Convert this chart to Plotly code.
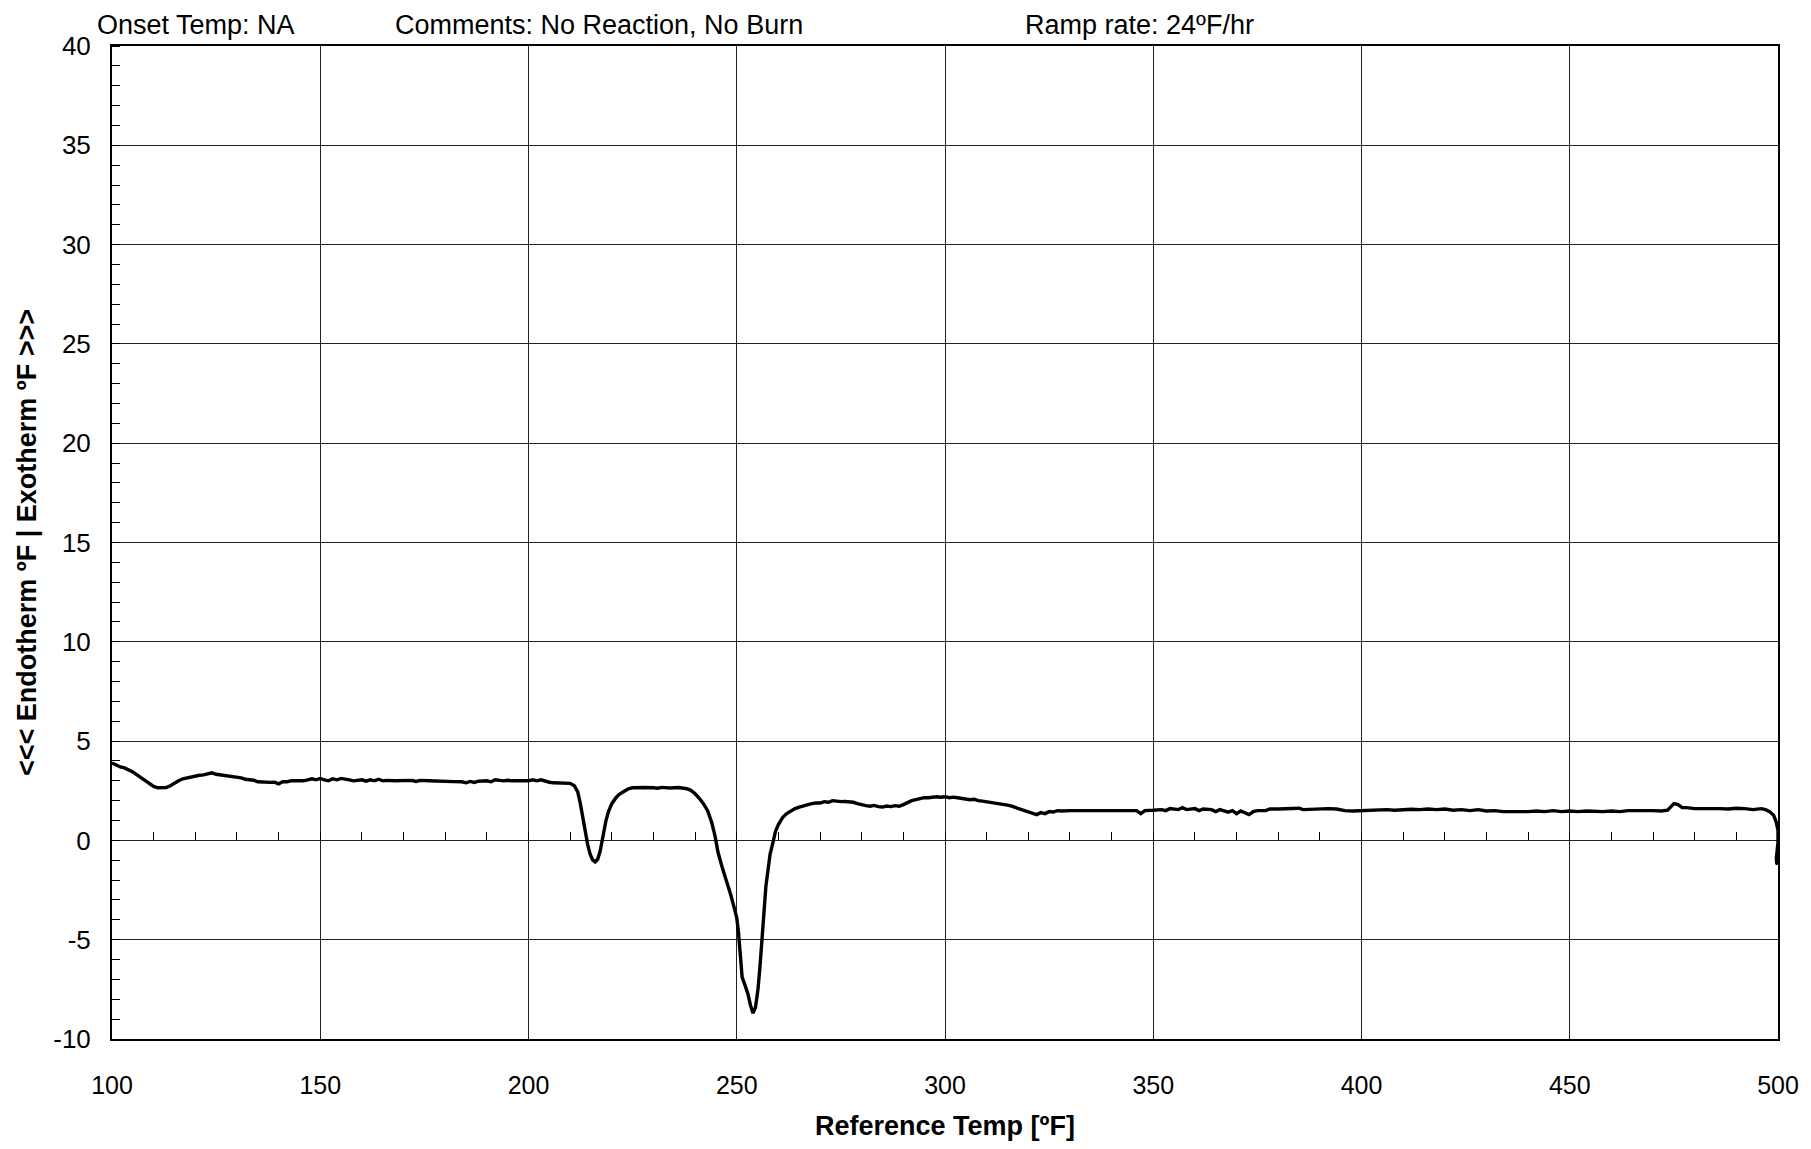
import plotly.graph_objects as go

# Reference temperature (ºF) and differential (ºF)
temp_f = [
    100, 101, 102, 103, 104, 105, 106, 107, 108, 109, 110, 111, 112, 113, 114, 115, 116, 117, 118, 119,
    120, 121, 122, 123, 124, 125, 126, 127, 128, 129, 130, 131, 132, 133, 134, 135, 136, 137, 138, 139,
    140, 141, 142, 143, 144, 145, 146, 147, 148, 149, 150, 151, 152, 153, 154, 155, 156, 157, 158, 159,
    160, 161, 162, 163, 164, 165, 166, 168, 170, 172, 173, 174, 176, 178, 180, 182, 184, 185, 186, 187,
    188, 190, 191, 192, 194, 195, 196, 198, 200, 201, 202, 203, 204, 205, 206, 208, 210,
    211, 211.8, 212.4, 213, 213.6, 214.2, 214.8, 215.4, 216, 216.6, 217.2, 218, 218.6, 219.2, 220, 221,
    221.8, 222.8, 224, 225, 226, 228, 230, 231, 232, 234, 236, 237, 238, 239, 240, 241, 242, 243, 244,
    244.8, 245.5, 246.5, 247.5, 248.5, 249.4, 250, 250.4, 250.8, 251.3, 252, 252.7, 253.3, 253.9, 254.5,
    255.1, 255.6, 256, 256.5, 257, 257.5, 258, 258.7, 259.3, 260, 261, 262, 263, 264, 265, 266, 267, 268,
    269, 270, 271, 272, 273, 274, 275, 276, 277, 278, 279, 280, 281, 282, 283, 284, 285, 286, 287, 288,
    289, 290, 291, 292, 293, 294, 295, 296, 297, 298, 299, 300, 301, 302, 303, 304, 305, 306, 307, 308,
    309, 310, 311, 312, 313, 314, 315, 316, 317, 318, 319, 320, 321, 322, 323, 324, 325, 326, 327, 328,
    330, 332, 334, 336, 338, 340, 342, 344, 346, 347, 348, 350, 352, 353, 354, 356, 357, 358, 360, 361,
    362, 364, 365, 366, 368, 369, 370, 371, 372, 373, 374, 375, 377, 378, 380, 382, 384, 385, 386, 388,
    390, 392, 394, 396, 398, 400, 402, 404, 406, 408, 410, 412, 414, 416, 418, 420, 422, 424, 426, 428,
    430, 432, 434, 436, 438, 440, 442, 444, 446, 448, 450, 452, 454, 456, 458, 460, 462, 464, 466, 468,
    470, 472, 473.5, 474.3, 475, 476, 477, 478, 480, 482, 484, 486, 488, 490, 492, 494, 496, 497, 498,
    499, 499.6, 500, 500, 499.8, 499.6, 499.7, 499.9, 500, 500,
]
delta_f = [
    3.9, 3.8, 3.7, 3.65, 3.55, 3.45, 3.3, 3.15, 3.0, 2.85, 2.72, 2.65, 2.64, 2.66, 2.75, 2.9, 3.0, 3.1, 3.15, 3.2,
    3.25, 3.28, 3.3, 3.35, 3.4, 3.33, 3.3, 3.25, 3.25, 3.2, 3.2, 3.15, 3.08, 3.05, 3.03, 2.95, 2.93, 2.92, 2.92, 2.93,
    2.85, 2.95, 2.95, 3.0, 3.0, 3.02, 3.0, 3.05, 3.1, 3.05, 3.12, 3.05, 3.0, 3.1, 3.05, 3.12, 3.1, 3.05, 3.0, 3.02,
    3.05, 2.98, 3.05, 3.0, 3.08, 3.0, 3.02, 3.0, 3.0, 3.02, 2.97, 3.02, 3.0, 3.0, 3.0, 2.96, 2.95, 2.9, 2.97, 2.92,
    2.98, 3.0, 2.95, 3.05, 3.0, 3.03, 3.0, 2.98, 3.0, 3.05, 3.0, 3.05, 2.98, 2.93, 2.9, 2.88, 2.87,
    2.75, 2.45, 1.9, 1.2, 0.45, -0.2, -0.7, -0.98, -1.08, -0.95, -0.55, 0.35, 1.0, 1.45, 1.85, 2.15,
    2.32, 2.45, 2.6, 2.65, 2.66, 2.66, 2.65, 2.63, 2.67, 2.64, 2.66, 2.63, 2.6, 2.52, 2.35, 2.12, 1.85, 1.5, 0.9,
    0.2, -0.6, -1.35, -2.0, -2.7, -3.4, -3.9, -4.6, -5.7, -6.9, -7.3, -7.75, -8.3, -8.7, -8.4,
    -7.5, -6.3, -5.0, -3.5, -2.3, -1.5, -0.7, -0.1, 0.45, 0.8, 1.15, 1.35, 1.5, 1.6, 1.68, 1.75, 1.8, 1.85,
    1.88, 1.88, 1.95, 1.92, 2.0, 1.96, 1.95, 1.96, 1.95, 1.92, 1.85, 1.78, 1.75, 1.72, 1.76, 1.7, 1.68, 1.73, 1.7, 1.75,
    1.72, 1.8, 1.92, 2.0, 2.05, 2.1, 2.15, 2.15, 2.18, 2.2, 2.17, 2.2, 2.15, 2.18, 2.15, 2.12, 2.1, 2.05, 2.07, 2.0,
    1.98, 1.95, 1.92, 1.88, 1.85, 1.82, 1.78, 1.72, 1.65, 1.58, 1.5, 1.45, 1.38, 1.3, 1.4, 1.35, 1.45, 1.43, 1.5, 1.48,
    1.5, 1.5, 1.48, 1.52, 1.5, 1.5, 1.52, 1.5, 1.5, 1.35, 1.5, 1.52, 1.55, 1.5, 1.6, 1.55, 1.65, 1.55, 1.6, 1.5,
    1.58, 1.55, 1.45, 1.55, 1.42, 1.5, 1.35, 1.48, 1.4, 1.3, 1.45, 1.5, 1.5, 1.58, 1.58, 1.58, 1.6, 1.62, 1.55, 1.58,
    1.58, 1.6, 1.58, 1.5, 1.48, 1.5, 1.52, 1.5, 1.55, 1.52, 1.55, 1.57, 1.55, 1.58, 1.55, 1.58, 1.52, 1.55, 1.5, 1.55,
    1.48, 1.5, 1.45, 1.45, 1.42, 1.45, 1.48, 1.45, 1.5, 1.45, 1.48, 1.45, 1.48, 1.45, 1.45, 1.48, 1.45, 1.5, 1.48, 1.5,
    1.5, 1.48, 1.52, 1.7, 1.85, 1.8, 1.65, 1.65, 1.6, 1.6, 1.62, 1.6, 1.58, 1.62, 1.6, 1.55, 1.6, 1.55, 1.45,
    1.25, 0.9, 0.5, -0.1, -0.5, -0.9, -1.15, -1.2, -1.0, -0.3,
]

x_ticks = [100, 150, 200, 250, 300, 350, 400, 450, 500]
y_ticks = [40, 35, 30, 25, 20, 15, 10, 5, 0, -5, -10]

header_texts = ["Onset Temp: NA", "Comments: No Reaction, No Burn", "Ramp rate: 24ºF/hr"]
header_x = [-0.0105, 0.1684, 0.5471]

font_fam = "Liberation Sans, Arial, Helvetica, sans-serif"

fig = go.Figure()
fig.add_trace(go.Scatter(
    x=temp_f, y=delta_f, mode="lines",
    line=dict(color="black", width=3.4),
    showlegend=False, hoverinfo="skip",
))
# empty trace so the zero-line tick axis (x2) gets drawn
fig.add_trace(go.Scatter(x=[], y=[], xaxis="x2", yaxis="y", mode="lines",
                         showlegend=False, hoverinfo="skip"))

fig.update_layout(
    width=1795, height=1133,
    margin=dict(l=104, r=25, t=38, b=102, autoexpand=False),
    paper_bgcolor="white", plot_bgcolor="white",
    showlegend=False,
    xaxis=dict(
        range=[100, 500], tickvals=x_ticks, ticktext=[str(v) for v in x_ticks],
        showgrid=True, gridcolor="#222", gridwidth=1,
        zeroline=False, showline=True, linecolor="black", linewidth=2, mirror=True,
        ticks="", ticklabelstandoff=23, automargin=False,
        tickfont=dict(family=font_fam, size=25, color="black"),
        title=dict(text="<b>Reference Temp [ºF]</b>", font=dict(family=font_fam, size=27, color="black"),
                   standoff=28),
    ),
    xaxis2=dict(
        range=[100, 500], overlaying="x", anchor="free", position=0.2, side="bottom",
        tick0=100, dtick=10, ticks="inside", ticklen=8, tickwidth=1, tickcolor="black",
        showticklabels=False, showgrid=False, showline=False, zeroline=False,
    ),
    yaxis=dict(
        range=[-10, 40], tickvals=y_ticks, ticktext=[str(v) for v in y_ticks],
        showgrid=True, gridcolor="#222", gridwidth=1,
        zeroline=False, showline=True, linecolor="black", linewidth=2, mirror=True,
        ticks="", ticklabelstandoff=14, automargin=False,
        minor=dict(dtick=1, ticks="inside", ticklen=8, tickwidth=1, tickcolor="black", showgrid=False),
        tickfont=dict(family=font_fam, size=26, color="black"),
        title=dict(text="<b><<< Endotherm ºF | Exotherm ºF >>></b>",
                   font=dict(family=font_fam, size=27, color="black"), standoff=9),
    ),
)

for txt, xp in zip(header_texts, header_x):
    fig.add_annotation(
        text=txt, xref="paper", yref="paper", x=xp, y=1, xanchor="left", yanchor="middle",
        yshift=21, showarrow=False, font=dict(family=font_fam, size=27, color="black"),
    )

fig.write_html("out.html")
